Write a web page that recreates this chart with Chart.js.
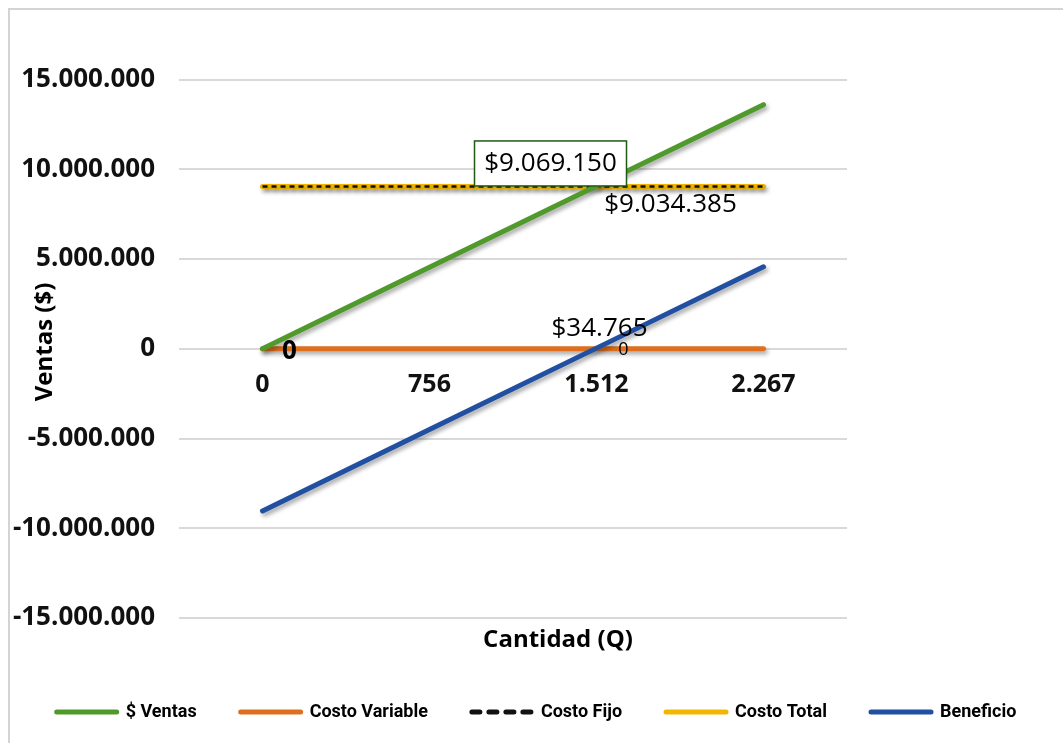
<!DOCTYPE html>
<html>
<head>
<meta charset="utf-8">
<script src="https://cdn.jsdelivr.net/npm/chart.js@4.4.1/dist/chart.umd.min.js"></script>
<style>
  html, body { margin: 0; padding: 0; background: #ffffff; }
  #wrap { width: 1063px; height: 743px; position: relative; }
  canvas { display: block; }
</style>
</head>
<body>
<div id="wrap"><canvas id="grafico" width="1063" height="743"></canvas></div>
<script>
// Punto de equilibrio: cantidades (Q) y montos en pesos
const cantidades = ['0', '756', '1.512', '2.267'];
const ventas = [0, 4534575, 9069150, 13597727];
const costoVariable = [0, 0, 0, 0];
const costoFijo = [9034385, 9034385, 9034385, 9034385];
const costoTotal = [9034385, 9034385, 9034385, 9034385];
const beneficio = [-9034385, -4499810, 34765, 4563342];

const nombresSeries = ['$ Ventas', 'Costo Variable', 'Costo Fijo', 'Costo Total', 'Beneficio'];
const ejeVentas = { min: -15000000, max: 15000000, paso: 5000000 };

const tituloEjeY = 'Ventas ($)';
const tituloEjeX = 'Cantidad (Q)';

// miles separados con punto
function miles(v) {
  const s = Math.abs(Math.round(v)).toString().replace(/\B(?=(\d{3})+(?!\d))/g, '.');
  return (v < 0 ? '-' : '') + s;
}
function pesos(v) { return v === 0 ? '0' : '$' + miles(v); }

const FUENTE = '"Open Sans", "Noto Sans", sans-serif';

// etiquetas de valor: serie, punto y estilo de cada una
const etiquetasValor = [
  { serie: 0, punto: 2, dx: -46, dy: -22, font: '400 26px ' + FUENTE, caja: { x: -122, y: -45, w: 152, h: 45, borde: '#1f5a14' } },
  { serie: 3, punto: 2, dx: 74, dy: 18, font: '400 26px ' + FUENTE },
  { serie: 4, punto: 2, dx: 3, dy: -20, font: '400 26px ' + FUENTE },
  { serie: 1, punto: 0, dx: 27, dy: 3, font: '700 26px ' + FUENTE },
  { serie: 1, punto: 2, dx: 27, dy: 1, font: '400 18px ' + FUENTE }
];

const sombra = {
  id: 'sombra',
  beforeDatasetsDraw(chart) {
    const ctx = chart.ctx;
    ctx.save();
    ctx.shadowColor = 'rgba(0,0,0,0.35)';
    ctx.shadowBlur = 4;
    ctx.shadowOffsetX = 2;
    ctx.shadowOffsetY = 3;
  },
  afterDatasetsDraw(chart) {
    chart.ctx.restore();
  }
};

const marco = {
  id: 'marco',
  beforeDraw(chart) {
    const ctx = chart.ctx;
    ctx.save();
    ctx.fillStyle = '#ffffff';
    ctx.fillRect(0, 0, chart.width, chart.height);
    ctx.strokeStyle = '#d4d4d4';
    ctx.lineWidth = 2;
    ctx.beginPath();
    ctx.moveTo(9, chart.height);
    ctx.lineTo(9, 9);
    ctx.lineTo(chart.width, 9);
    ctx.stroke();
    ctx.restore();
  }
};

const etiquetas = {
  id: 'etiquetas',
  afterDatasetsDraw(chart) {
    const ctx = chart.ctx;
    ctx.save();
    etiquetasValor.forEach(e => {
      const el = chart.getDatasetMeta(e.serie).data[e.punto];
      const valor = chart.data.datasets[e.serie].data[e.punto];
      const px = el.x, py = el.y;
      if (e.caja) {
        ctx.fillStyle = '#ffffff';
        ctx.fillRect(px + e.caja.x, py + e.caja.y, e.caja.w, e.caja.h);
        ctx.strokeStyle = e.caja.borde;
        ctx.lineWidth = 1.5;
        ctx.strokeRect(px + e.caja.x, py + e.caja.y, e.caja.w, e.caja.h);
      }
      ctx.font = e.font;
      ctx.fillStyle = '#000000';
      ctx.textAlign = 'center';
      ctx.textBaseline = 'middle';
      ctx.fillText(pesos(valor), px + e.dx, py + e.dy);
    });
    ctx.restore();
  }
};

const titulosEjes = {
  id: 'titulosEjes',
  afterDraw(chart) {
    const ctx = chart.ctx;
    ctx.save();
    ctx.fillStyle = '#000000';
    ctx.textAlign = 'center';
    ctx.textBaseline = 'middle';
    ctx.font = '700 24px ' + FUENTE;
    ctx.translate(45, 342);
    ctx.rotate(-Math.PI / 2);
    ctx.fillText(tituloEjeY, 0, 0);
    ctx.restore();
    ctx.save();
    ctx.fillStyle = '#000000';
    ctx.textAlign = 'center';
    ctx.textBaseline = 'middle';
    ctx.font = '700 24px ' + FUENTE;
    ctx.fillText(tituloEjeX, 558, 640);
    ctx.restore();
  }
};

function serie(i, datos, color, extra) {
  return Object.assign({
    label: nombresSeries[i],
    data: datos,
    borderColor: color,
    backgroundColor: color,
    borderWidth: 5,
    borderCapStyle: 'round',
    borderJoinStyle: 'round',
    pointRadius: 0,
    pointHoverRadius: 0,
    tension: 0,
    fill: false
  }, extra || {});
}

new Chart(document.getElementById('grafico'), {
  type: 'line',
  data: {
    labels: cantidades,
    datasets: [
      serie(0, ventas, '#4f9a2b', { order: 1 }),
      serie(1, costoVariable, '#dd6f1f', { order: 5 }),
      serie(2, costoFijo, '#111111', { order: 2, borderWidth: 2.5, borderDash: [5, 4], borderCapStyle: 'butt' }),
      serie(3, costoTotal, '#f2b600', { order: 4 }),
      serie(4, beneficio, '#2150a2', { order: 3 })
    ]
  },
  options: {
    responsive: false,
    animation: false,
    devicePixelRatio: 1,
    layout: { padding: { left: 10, right: 0, top: 79.5, bottom: 12 } },
    scales: {
      y: {
        type: 'linear',
        position: 'left',
        min: ejeVentas.min,
        max: ejeVentas.max,
        ticks: {
          stepSize: ejeVentas.paso,
          padding: 24,
          color: '#111111',
          font: { family: FUENTE, size: 26, weight: '700' },
          callback: v => miles(v)
        },
        grid: { color: '#d9d9d9', lineWidth: 2, drawTicks: false },
        border: { display: false },
        afterFit(scale) { scale.width = 169; }
      },
      yDer: {
        type: 'linear',
        position: 'right',
        min: ejeVentas.min,
        max: ejeVentas.max,
        ticks: { display: false },
        grid: { display: false, drawTicks: false },
        border: { display: false },
        afterFit(scale) { scale.width = 216; }
      },
      x: {
        type: 'category',
        position: { y: 0 },
        offset: true,
        ticks: {
          padding: 21,
          color: '#111111',
          font: { family: FUENTE, size: 25, weight: '700' },
          maxRotation: 0
        },
        grid: { display: false, drawTicks: false },
        border: { display: false }
      },
      xPie: {
        type: 'category',
        position: 'bottom',
        labels: cantidades,
        ticks: { display: false },
        grid: { display: false, drawTicks: false },
        border: { display: false },
        afterFit(scale) { scale.height = 41; }
      }
    },
    plugins: {
      tooltip: { enabled: false },
      legend: {
        position: 'bottom',
        labels: {
          usePointStyle: true,
          pointStyle: 'line',
          pointStyleWidth: 60,
          padding: 44,
          color: '#000000',
          font: { family: 'Roboto, "Noto Sans", sans-serif', size: 18, weight: '700' },
          sort: (a, b) => a.datasetIndex - b.datasetIndex,
          generateLabels(chart) {
            const items = Chart.defaults.plugins.legend.labels.generateLabels(chart);
            return items.map(it => {
              it.lineWidth = 5;
              it.lineCap = 'round';
              it.lineDash = it.datasetIndex === 2 ? [8, 9] : [];
              return it;
            });
          }
        }
      }
    }
  },
  plugins: [marco, sombra, etiquetas, titulosEjes]
});
</script>
</body>
</html>
